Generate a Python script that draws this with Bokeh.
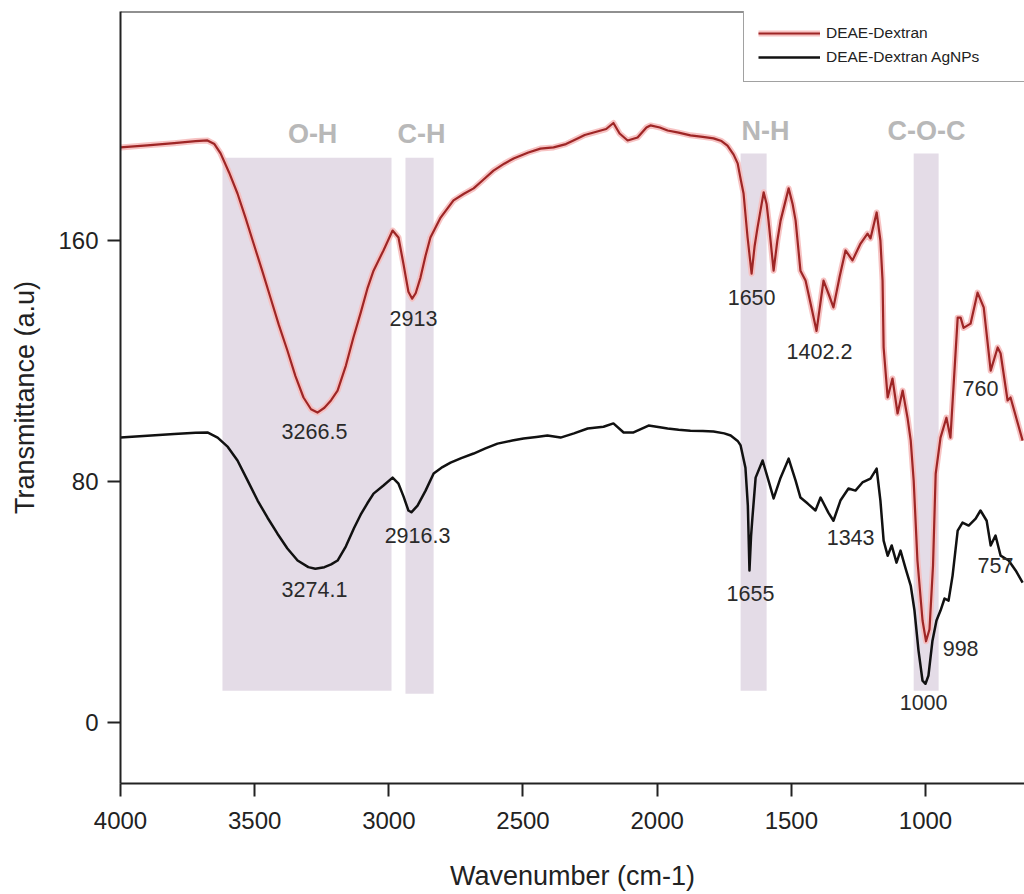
from bokeh.plotting import figure
from bokeh.models import Range1d, FixedTicker, Legend, LegendItem, Span, ColumnDataSource
from bokeh.core.properties import value
from bokeh.embed import file_html
from bokeh.resources import INLINE

# ---------------- data ----------------
x_ticks = [1000, 1500, 2000, 2500, 3000, 3500, 4000]
y_ticks = [0, 80, 160]

red_w = [4000, 3900, 3800, 3720, 3676, 3650, 3627, 3595, 3564, 3534, 3504, 3472, 3441, 3410,
         3378, 3348, 3318, 3290, 3266, 3240, 3215, 3191, 3160, 3132, 3105, 3080, 3057, 3020,
         2986, 2964, 2945, 2927, 2913, 2900, 2882, 2863, 2845, 2807, 2759, 2720, 2684, 2650,
         2610, 2570, 2535, 2480, 2435, 2386, 2340, 2312, 2270, 2230, 2190, 2163, 2140, 2110,
         2073, 2040, 2025, 1990, 1961, 1920, 1876, 1830, 1790, 1760, 1738, 1715, 1700, 1688,
         1678, 1663, 1648, 1637, 1626, 1603, 1592, 1585, 1566, 1552, 1540, 1510, 1495, 1484,
         1466, 1447, 1428, 1406, 1380, 1360, 1343, 1320, 1298, 1272, 1242, 1216, 1205, 1182,
         1168, 1160, 1156, 1141, 1123, 1104, 1085, 1067, 1055, 1044, 1030, 1011, 998, 985,
         972, 962, 944, 922, 907, 880, 869, 858, 832, 806, 783, 757, 731, 720, 694, 683, 638]
red_t = [190.9, 191.6, 192.3, 193.0, 193.2, 192.0, 188.9, 182.5, 175.6, 167.5, 159.0, 150.0, 141.0, 132.0,
         123.5, 115.0, 107.9, 104.0, 102.9, 104.5, 107.0, 110.2, 118.5, 127.8, 136.0, 144.0, 150.0, 156.7,
         163.3, 161.0, 152.0, 143.0, 140.7, 142.5, 147.7, 155.0, 161.0, 167.6, 173.3, 175.5, 177.3, 180.0,
         183.2, 185.5, 187.2, 189.2, 190.5, 190.9, 192.0, 193.2, 195.0, 196.0, 197.0, 199.0, 195.5, 193.2,
         194.2, 197.5, 198.2, 197.5, 196.5, 195.8, 194.9, 194.4, 193.9, 193.0, 191.5, 188.5, 185.6, 180.0,
         175.6, 161.0, 149.0, 158.0, 164.3, 176.0, 172.0, 166.6, 150.0, 160.0, 166.6, 177.3, 172.0, 166.6,
         150.0, 146.7, 139.0, 130.0, 146.7, 142.0, 137.8, 148.0, 156.7, 153.4, 159.0, 162.3, 160.7, 169.3,
         160.0, 146.7, 124.5, 107.9, 114.2, 102.6, 110.2, 101.2, 93.6, 80.3, 53.8, 33.9, 27.0, 31.0,
         52.0, 82.6, 94.6, 101.2, 94.6, 134.4, 134.4, 131.0, 132.4, 142.7, 137.8, 116.8, 124.5, 122.5, 106.9, 107.9, 93.6]

black_w = [4000, 3900, 3800, 3720, 3676, 3638, 3600, 3564, 3527, 3489, 3452, 3415, 3378, 3340,
           3300, 3274, 3240, 3215, 3191, 3160, 3130, 3105, 3080, 3057, 3020, 2986, 2964, 2945,
           2927, 2916, 2893, 2863, 2833, 2800, 2770, 2730, 2684, 2640, 2595, 2540, 2498, 2450,
           2409, 2360, 2310, 2259, 2200, 2163, 2125, 2088, 2032, 1990, 1961, 1920, 1876, 1830,
           1790, 1750, 1726, 1700, 1689, 1671, 1662, 1656, 1650, 1645, 1633, 1607, 1585, 1566,
           1540, 1510, 1484, 1466, 1439, 1410, 1391, 1362, 1343, 1317, 1287, 1261, 1235, 1205,
           1182, 1168, 1156, 1141, 1126, 1108, 1093, 1074, 1055, 1041, 1026, 1011, 1000, 989,
           974, 959, 944, 929, 914, 899, 880, 862, 839, 813, 795, 772, 757, 739, 720, 690, 664, 638]
black_t = [94.6, 95.2, 95.8, 96.2, 96.3, 94.6, 91.5, 87.0, 80.5, 73.7, 68.0, 62.7, 57.8, 53.8,
           51.6, 51.1, 51.6, 52.5, 53.8, 58.5, 64.5, 69.0, 72.8, 76.0, 78.7, 81.3, 79.3, 75.0,
           70.4, 69.8, 72.0, 77.0, 82.7, 84.8, 86.3, 87.8, 89.3, 91.0, 92.6, 93.6, 94.3, 94.8,
           95.3, 94.6, 96.0, 97.6, 98.2, 99.3, 96.3, 96.3, 98.6, 98.0, 97.6, 97.2, 96.9, 96.8,
           96.6, 96.0, 95.3, 93.5, 92.0, 84.6, 72.0, 50.5, 62.0, 68.0, 81.3, 87.0, 80.3, 74.4,
           81.3, 87.6, 80.3, 74.7, 72.7, 70.4, 74.7, 69.7, 67.0, 73.7, 77.7, 77.0, 79.7, 81.0,
           84.3, 73.7, 60.4, 55.4, 58.8, 53.1, 57.1, 51.1, 45.5, 37.2, 23.9, 13.9, 12.9, 15.6,
           27.2, 33.9, 37.2, 41.2, 40.5, 48.8, 63.7, 66.4, 65.4, 67.7, 70.4, 67.0, 58.8, 62.1, 55.4, 53.8, 50.5, 46.5]

band_names = ["O-H", "C-H", "N-H", "C-O-C"]
band_left = [3620, 2938, 1689, 1044]
band_right = [2990, 2833, 1592, 951]
band_top = [187.5, 187.5, 188.9, 188.9]
band_bottom = [10.6, 9.6, 10.6, 10.6]
band_label_w = [3284, 2878, 1596, 996]
band_label_t = [195.2, 195.2, 196.2, 196.2]

peak_text = ["3266.5", "3274.1", "2913", "2916.3", "1650", "1655", "1402.2", "760", "1343", "757", "998", "1000"]
peak_w = [3277, 3277, 2908, 2893, 1648, 1652, 1395, 795, 1279, 739, 869, 1007]
peak_t = [96.6, 44.1, 134.1, 62.1, 141.1, 42.8, 123.2, 110.9, 61.4, 52.1, 24.6, 6.6]

# ---------------- figure ----------------
FONT = "Liberation Sans"
p = figure(width=1024, height=894, x_range=Range1d(4000, 631), y_range=Range1d(-20.2, 236),
           output_backend="svg", toolbar_location=None,
           min_border_left=120, min_border_right=0, min_border_top=11, min_border_bottom=111)
p.outline_line_color = None
p.xgrid.visible = False
p.ygrid.visible = False
p.background_fill_color = "white"
p.border_fill_color = "white"

# bands
p.quad(left=band_left, right=band_right, top=band_top, bottom=band_bottom,
       fill_color="#e4dce7", line_color=None)

# curves
red_src = ColumnDataSource(dict(w=red_w, t=red_t))
blk_src = ColumnDataSource(dict(w=black_w, t=black_t))
red_halo = p.line("w", "t", source=red_src, line_color="#f6bcbc", line_width=6, line_alpha=0.9,
                  line_join="round")
red_line = p.line("w", "t", source=red_src, line_color="#9e2626", line_width=2.2, line_join="round")
blk_line = p.line("w", "t", source=blk_src, line_color="#111111", line_width=2.5, line_join="round")

# band labels
p.text(x=band_label_w, y=band_label_t, text=band_names, text_align="center", text_baseline="middle",
       text_font=value(FONT), text_font_size="27px", text_font_style="bold", text_color="#b8b8b8")

# peak labels
p.text(x=peak_w, y=peak_t, text=peak_text, text_align="center", text_baseline="middle",
       text_font=value(FONT), text_font_size="21.5px", text_color="#2a2a2a")

# top border
p.add_layout(Span(location=236, dimension="width", line_color="#222222", line_width=2))

# axes
for ax in (p.xaxis[0], p.yaxis[0]):
    ax.axis_line_width = 2
    ax.axis_line_color = "#222222"
    ax.major_tick_line_width = 2
    ax.major_tick_line_color = "#222222"
    ax.major_tick_in = 0
    ax.major_tick_out = 13
    ax.minor_tick_in = 0
    ax.minor_tick_out = 0
    ax.major_label_text_font = FONT
    ax.major_label_text_font_size = "24px"
    ax.major_label_text_color = "#222222"
    ax.axis_label_text_font = FONT
    ax.axis_label_text_font_size = "27px"
    ax.axis_label_text_font_style = "normal"
    ax.axis_label_text_color = "#222222"

p.xaxis[0].ticker = FixedTicker(ticks=x_ticks)
p.yaxis[0].ticker = FixedTicker(ticks=y_ticks)
p.xaxis[0].axis_label = "Wavenumber (cm-1)"
p.yaxis[0].axis_label = "Transmittance (a.u)"
p.xaxis[0].major_label_standoff = 15
p.xaxis[0].axis_label_standoff = 29
p.yaxis[0].major_label_standoff = 9
p.yaxis[0].axis_label_standoff = 15

legend = Legend(items=[LegendItem(label="DEAE-Dextran", renderers=[red_halo, red_line]),
                       LegendItem(label="DEAE-Dextran AgNPs", renderers=[blk_line])],
                location=(623, 701), orientation="vertical")
legend.label_text_font = FONT
legend.label_text_font_size = "15.5px"
legend.label_text_color = "#222222"
legend.glyph_width = 62
legend.glyph_height = 20
legend.label_width = 230
legend.label_standoff = 6
legend.padding = 14
legend.spacing = 4
legend.border_line_color = "#444444"
legend.border_line_width = 1
legend.background_fill_color = "white"
legend.background_fill_alpha = 1.0
legend.margin = 0
p.add_layout(legend, "center")

open("out.html", "w").write(file_html(p, INLINE))
